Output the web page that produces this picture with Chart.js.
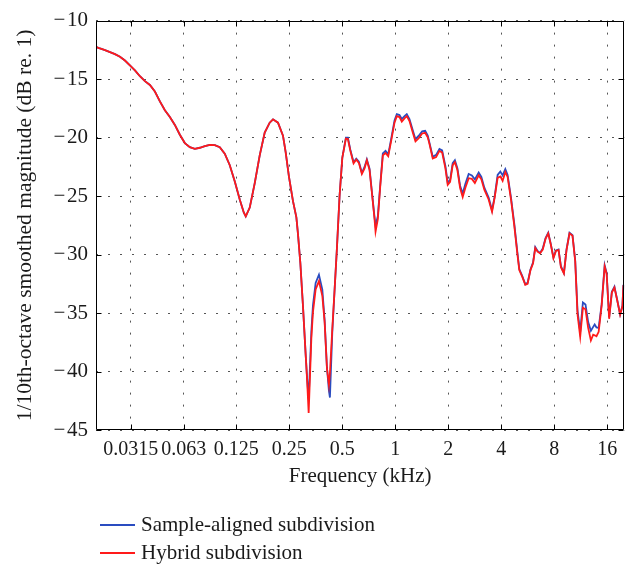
<!DOCTYPE html>
<html>
<head>
<meta charset="utf-8">
<script src="https://cdn.jsdelivr.net/npm/chart.js@4.4.0/dist/chart.umd.min.js"></script>
<style>
html,body{margin:0;padding:0;background:#fff;}
#wrap{position:relative;width:637px;height:567px;overflow:hidden;}
#c{position:absolute;left:0;top:0;}
.ln{position:absolute;left:100px;width:35px;height:1.5px;}
.lt{position:absolute;left:141px;font-family:"Liberation Serif",serif;font-size:21px;line-height:24px;color:#1a1a1a;white-space:nowrap;}
</style>
</head>
<body>
<div id="wrap">
<canvas id="c" width="637" height="567"></canvas>
<div class="ln" style="top:524px;background:#2a4cc0"></div>
<div class="lt" id="lt1" style="top:512px"></div>
<div class="ln" style="top:552px;background:#ff1a1a"></div>
<div class="lt" id="lt2" style="top:540px"></div>
</div>
<script>
// ---- data (frequency in kHz, magnitude in dB) ----
const freqKHz = [0.02,0.02107,0.02249,0.02401,0.02563,0.02736,0.02920,0.03117,0.03328,0.03552,0.03792,0.04047,0.04320,0.04612,0.04923,0.05255,0.05609,0.05987,0.06391,0.06822,0.07282,0.07774,0.08298,0.08857,0.09455,0.1009,0.1077,0.1150,0.1228,0.1310,0.1381,0.1417,0.1493,0.1594,0.1701,0.1816,0.1938,0.2024,0.2160,0.2306,0.2389,0.2494,0.2628,0.2747,0.2805,0.2894,0.2994,0.3102,0.3163,0.3226,0.3341,0.3412,0.3534,0.3690,0.3857,0.3975,0.4096,0.4204,0.4260,0.4395,0.4529,0.4667,0.4834,0.5008,0.5249,0.5388,0.5559,0.5804,0.6012,0.6220,0.6468,0.6700,0.6904,0.7152,0.7408,0.7634,0.7735,0.7970,0.8224,0.8508,0.8813,0.9129,0.9494,0.9911,1.0213,1.0579,1.0902,1.1293,1.1637,1.2054,1.2585,1.3036,1.3610,1.4228,1.4796,1.5307,1.5650,1.6339,1.7081,1.7833,1.8473,1.9285,1.9873,2.0506,2.1214,2.1832,2.2556,2.3366,2.4172,2.5038,2.6142,2.7256,2.8344,2.9786,3.0854,3.2086,3.3938,3.5480,3.6704,3.8170,3.9540,4.0744,4.2206,4.3492,4.5466,4.7468,4.9364,5.0670,5.2694,5.4798,5.6468,5.8646,6.0672,6.2438,6.4342,6.6476,6.8860,7.1426,7.3988,7.6642,7.9184,8.1810,8.4636,8.7330,9.0818,9.3952,9.7704,10.161,10.525,10.846,11.235,11.638,12.040,12.472,12.919,13.313,13.576,13.899,14.304,14.875,15.469,15.879,16.405,16.994,17.581,18.211,18.938,19.516,19.77];

const hybridDb = [-12.25,-12.38,-12.52,-12.69,-12.86,-13.09,-13.41,-13.83,-14.25,-14.75,-15.17,-15.50,-16.06,-16.90,-17.66,-18.24,-18.91,-19.75,-20.46,-20.81,-20.95,-20.86,-20.73,-20.61,-20.63,-20.81,-21.37,-22.35,-23.74,-25.28,-26.39,-26.73,-25.97,-23.88,-21.51,-19.56,-18.72,-18.43,-18.72,-19.83,-21.26,-23.35,-25.42,-26.81,-28.21,-30.72,-34.35,-38.53,-40.77,-43.51,-37.14,-34.91,-32.96,-32.25,-33.51,-35.75,-39.66,-41.11,-40.10,-36.31,-32.96,-29.46,-24.94,-21.72,-20.08,-20.11,-21.09,-22.20,-21.87,-22.15,-23.10,-22.62,-21.93,-22.76,-25.00,-26.95,-28.02,-26.95,-24.16,-21.51,-21.31,-21.59,-20.25,-18.72,-18.16,-18.24,-18.63,-18.35,-18.16,-18.58,-19.56,-20.31,-20.03,-19.64,-19.58,-19.97,-20.53,-21.78,-21.65,-21.13,-21.26,-22.62,-24.02,-23.77,-22.35,-22.09,-22.76,-24.30,-25.07,-24.27,-23.46,-23.52,-23.88,-23.22,-23.56,-24.44,-25.28,-26.32,-25.13,-23.43,-23.31,-23.69,-22.93,-23.35,-25.28,-27.54,-29.88,-31.31,-31.89,-32.56,-32.48,-31.31,-30.72,-29.42,-29.74,-29.88,-29.55,-28.63,-28.17,-29.19,-30.30,-29.67,-29.59,-31.06,-31.60,-29.61,-28.17,-28.38,-30.55,-35.08,-37.00,-34.53,-34.66,-36.25,-37.32,-36.83,-36.88,-36.96,-36.58,-34.32,-31.00,-31.64,-35.47,-33.23,-32.81,-33.86,-35.12,-34.40,-32.60];

const sampleAlignedDb = [-12.25,-12.38,-12.52,-12.69,-12.86,-13.09,-13.41,-13.83,-14.25,-14.75,-15.17,-15.50,-16.06,-16.90,-17.66,-18.24,-18.91,-19.75,-20.46,-20.81,-20.95,-20.86,-20.73,-20.61,-20.63,-20.81,-21.37,-22.35,-23.74,-25.28,-26.39,-26.73,-25.97,-23.88,-21.51,-19.56,-18.72,-18.43,-18.72,-19.83,-21.26,-23.35,-25.42,-26.81,-28.21,-30.72,-34.35,-38.53,-40.6,-42.36,-36.58,-34.32,-32.40,-31.70,-32.98,-35.58,-39.60,-41.61,-42.19,-36.58,-32.96,-29.46,-24.94,-21.72,-20.0,-20.0,-21.0,-22.1,-21.8,-22.05,-23.0,-22.5,-21.85,-22.65,-24.9,-26.8,-27.51,-26.70,-24.05,-21.34,-21.13,-21.42,-20.08,-18.53,-17.99,-18.07,-18.41,-18.16,-17.99,-18.41,-19.37,-20.13,-19.83,-19.46,-19.41,-19.83,-20.42,-21.63,-21.47,-20.96,-21.09,-22.43,-23.85,-23.60,-22.18,-21.93,-22.60,-24.10,-24.77,-23.94,-23.10,-23.22,-23.56,-22.97,-23.35,-24.27,-25.11,-26.20,-25.03,-23.18,-22.89,-23.22,-22.68,-23.18,-25.11,-27.37,-29.72,-31.22,-31.81,-32.52,-32.40,-31.26,-30.64,-29.34,-29.67,-29.84,-29.46,-28.58,-28.12,-29.13,-30.22,-29.63,-29.55,-30.97,-31.56,-29.55,-28.12,-28.33,-30.47,-34.74,-36.58,-34.07,-34.24,-35.75,-36.50,-36.16,-35.95,-36.21,-36.25,-34.24,-30.89,-31.56,-35.33,-33.15,-32.73,-33.82,-35.08,-34.36,-32.56];

const xTickValues = [0.0315,0.063,0.125,0.25,0.5,1,2,4,8,16];
const xTickLabels = ['0.0315','0.063','0.125','0.25','0.5','1','2','4','8','16'];
const seriesNames = ['Sample-aligned subdivision','Hybrid subdivision'];
const xTitle = 'Frequency (kHz)';
const yTitle = '1/10th-octave smoothed magnitude (dB re. 1)';

document.getElementById('lt1').textContent = seriesNames[0];
document.getElementById('lt2').textContent = seriesNames[1];

const toPts = arr => freqKHz.map((f,i)=>({x:f,y:arr[i]}));

Chart.defaults.font.family = '"Liberation Serif", "Times New Roman", serif';
Chart.defaults.color = '#1a1a1a';

const frame = {
  id:'frame',
  afterDraw(chart){
    const {ctx, chartArea:a, scales:{x,y}} = chart;
    ctx.save();
    ctx.strokeStyle = '#000';
    ctx.lineWidth = 1;
    ctx.setLineDash([]);
    ctx.beginPath();
    const L=Math.round(a.left)+0.5, R=Math.round(a.right)-0.5, T=Math.round(a.top)+0.5, B=Math.round(a.bottom)-0.5;
    ctx.rect(L,T,R-L,B-T);
    const tl = 5;
    xTickValues.forEach(v=>{
      const px = Math.round(x.getPixelForValue(v))+0.5;
      ctx.moveTo(px,B); ctx.lineTo(px,B-tl);
      ctx.moveTo(px,T); ctx.lineTo(px,T+tl);
    });
    y.ticks.forEach(t=>{
      const py = Math.round(y.getPixelForValue(t.value))+0.5;
      ctx.moveTo(L,py); ctx.lineTo(L+tl,py);
      ctx.moveTo(R,py); ctx.lineTo(R-tl,py);
    });
    ctx.stroke();
    ctx.restore();
  }
};

new Chart(document.getElementById('c'), {
  type:'line',
  data:{
    datasets:[
      {label:seriesNames[0], data:toPts(sampleAlignedDb), borderColor:'#2a4cc0', borderWidth:1.8, pointRadius:0, tension:0, fill:false, order:1},
      {label:seriesNames[1], data:toPts(hybridDb), borderColor:'#ff1a1a', borderWidth:1.8, pointRadius:0, tension:0, fill:false, order:0}
    ]
  },
  options:{
    responsive:false,
    animation:false,
    devicePixelRatio:1,
    layout:{padding:{left:0,right:12.7,top:12.6,bottom:78.4}},
    plugins:{legend:{display:false}, tooltip:{enabled:false}},
    scales:{
      x:{
        type:'logarithmic',
        min:0.02, max:20,
        afterBuildTicks:s=>{ s.ticks = xTickValues.map(v=>({value:v, major:true})); },
        afterFit:s=>{ s.height = 58.2; },
        ticks:{autoSkip:false, maxRotation:0, minRotation:0, padding:7, font:{size:20},
          callback:(v,i)=>xTickLabels[i]},
        grid:{color:'#555', lineWidth:1, drawTicks:false, tickLength:0},
        border:{display:false, dash:[2,10]},
        title:{display:true, text:xTitle, font:{size:21}, padding:{top:0,bottom:0}}
      },
      y:{
        type:'linear',
        min:-45, max:-10,
        afterFit:s=>{ s.width = 96; },
        ticks:{stepSize:5, padding:8, font:{size:21},
          callback:v=>'\u2212\u200A' + Math.abs(v)},
        grid:{color:'#555', lineWidth:1, drawTicks:false, tickLength:0},
        border:{display:false, dash:[2,10]},
        title:{display:true, text:yTitle, font:{size:21.5}, padding:{top:12,bottom:0}}
      }
    }
  },
  plugins:[frame]
});
</script>
</body>
</html>
